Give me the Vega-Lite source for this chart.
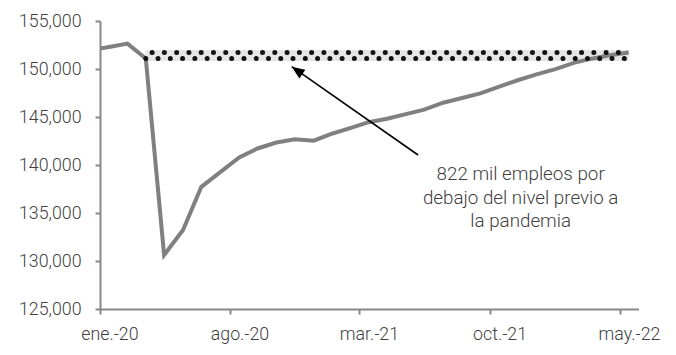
{
  "$schema": "https://vega.github.io/schema/vega-lite/v6.json",
  "width": 538.5,
  "height": 288,
  "autosize": {"type": "none"},
  "padding": {"left": 100, "top": 21, "right": 38, "bottom": 46},
  "background": "white",
  "config": {
    "view": {"stroke": null},
    "font": "Roboto",
    "axis": {
      "domainColor": "#878787",
      "domainWidth": 2,
      "tickColor": "#878787",
      "tickWidth": 2,
      "tickSize": 5,
      "labelFont": "Roboto",
      "labelFontWeight": 300,
      "labelFontSize": 17.8,
      "labelColor": "#404040",
      "grid": false,
      "labelFlush": false,
      "labelOverlap": false
    }
  },
  "datasets": {
    "empleo": [
      {"fecha": "2019-12-16", "valor": 151960},
      {"fecha": "2020-01-16", "valor": 152294},
      {"fecha": "2020-02-15", "valor": 152648},
      {"fecha": "2020-03-16", "valor": 151087},
      {"fecha": "2020-04-15", "valor": 130619},
      {"fecha": "2020-05-16", "valor": 133221},
      {"fecha": "2020-06-15", "valor": 137726},
      {"fecha": "2020-07-16", "valor": 139250},
      {"fecha": "2020-08-16", "valor": 140786},
      {"fecha": "2020-09-15", "valor": 141722},
      {"fecha": "2020-10-16", "valor": 142346},
      {"fecha": "2020-11-15", "valor": 142690},
      {"fecha": "2020-12-16", "valor": 142534},
      {"fecha": "2021-01-16", "valor": 143283},
      {"fecha": "2021-02-15", "valor": 143866},
      {"fecha": "2021-03-16", "valor": 144459},
      {"fecha": "2021-04-15", "valor": 144813},
      {"fecha": "2021-05-16", "valor": 145302},
      {"fecha": "2021-06-15", "valor": 145760},
      {"fecha": "2021-07-16", "valor": 146488},
      {"fecha": "2021-08-16", "valor": 146977},
      {"fecha": "2021-09-15", "valor": 147456},
      {"fecha": "2021-10-16", "valor": 148163},
      {"fecha": "2021-11-15", "valor": 148829},
      {"fecha": "2021-12-16", "valor": 149433},
      {"fecha": "2022-01-16", "valor": 149984},
      {"fecha": "2022-02-15", "valor": 150640},
      {"fecha": "2022-03-16", "valor": 151077},
      {"fecha": "2022-04-15", "valor": 151441},
      {"fecha": "2022-05-16", "valor": 151722}
    ],
    "nivel": [
      {"fecha": "2020-03-16", "valor": 151406},
      {"fecha": "2022-05-16", "valor": 151406}
    ],
    "flecha": [
      {"fecha": "2020-11-10", "valor": 150240, "fecha2": "2021-06-05", "valor2": 141042}
    ],
    "nota": [
      {"fecha": "2021-11-20", "valor": 138438, "texto": ["822 mil empleos por", "debajo del nivel previo a", "la pandemia"]}
    ]
  },
  "encoding": {
    "x": {
      "field": "fecha", "type": "temporal", "title": null,
      "scale": {"type": "utc", "nice": false, "domain": [{"year": 2020, "month": 1, "date": 1, "utc": true}, {"year": 2022, "month": 6, "date": 1, "utc": true}]},
      "axis": {
        "values": [
          {"year": 2020, "month": 1, "date": 1, "utc": true},
          {"year": 2020, "month": 8, "date": 1, "utc": true},
          {"year": 2021, "month": 3, "date": 1, "utc": true},
          {"year": 2021, "month": 10, "date": 1, "utc": true},
          {"year": 2022, "month": 5, "date": 1, "utc": true}
        ],
        "labelExpr": "['ene.','feb.','mar.','abr.','may.','jun.','jul.','ago.','sep.','oct.','nov.','dic.'][utcmonth(datum.value)] + '-' + utcFormat(datum.value, '%y')",
        "labelOffset": 9.4,
        "labelPadding": 11,
        "labelAngle": 0
      }
    },
    "y": {
      "field": "valor", "type": "quantitative", "title": null,
      "scale": {"domain": [125000, 155000], "nice": false, "zero": false},
      "axis": {"values": [125000, 130000, 135000, 140000, 145000, 150000, 155000], "labelExpr": "format(datum.value, ',.0f')", "labelPadding": 14}
    }
  },
  "layer": [
    {
      "data": {"name": "nivel"},
      "mark": {"type": "line", "color": "#e6e6e6", "strokeWidth": 11, "strokeCap": "butt"}
    },
    {
      "data": {"name": "empleo"},
      "mark": {"type": "line", "color": "#808080", "strokeWidth": 4, "clip": true, "strokeJoin": "miter"}
    },
    {
      "data": {"name": "nivel"},
      "mark": {"type": "line", "color": "#111111", "strokeWidth": 5, "strokeCap": "round", "strokeDash": [0, 12.27], "yOffset": 3.1}
    },
    {
      "data": {"name": "nivel"},
      "mark": {"type": "line", "color": "#111111", "strokeWidth": 5, "strokeCap": "round", "strokeDash": [0, 12.27], "strokeDashOffset": 5.94, "yOffset": -3.1}
    },
    {
      "data": {"name": "flecha"},
      "mark": {"type": "rule", "color": "#000000", "strokeWidth": 1.6},
      "encoding": {
        "x2": {"field": "fecha2"},
        "y2": {"field": "valor2"}
      }
    },
    {
      "data": {"name": "flecha"},
      "mark": {"type": "point", "shape": "M0,0 L1,-0.4 L1,0.4 Z", "size": 676, "filled": true, "color": "#000000", "opacity": 1, "angle": 34.9}
    },
    {
      "data": {"name": "nota"},
      "mark": {"type": "text", "align": "center", "baseline": "alphabetic", "fontSize": 18.8, "fontWeight": 300, "lineHeight": 23.7, "color": "#404040", "font": "Roboto"},
      "encoding": {
        "text": {"field": "texto"}
      }
    }
  ]
}
